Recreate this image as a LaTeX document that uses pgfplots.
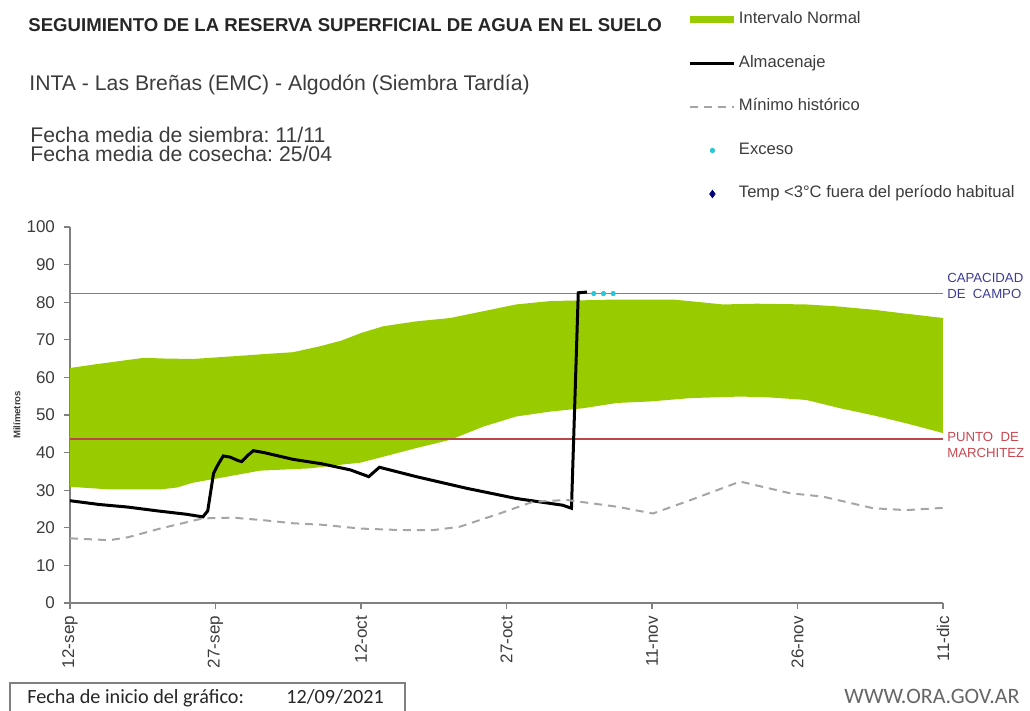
\documentclass[border=0pt]{standalone}
\usepackage{fontspec}
\setmainfont{Liberation Sans}
\newfontfamily\carlito{Carlito}
\usepackage{pgfplots}
\usepgfplotslibrary{fillbetween}
\pgfplotsset{compat=1.18}
\usepackage{pgfplotstable}
\frenchspacing

\definecolor{ngreen}{RGB}{153,204,0}
\definecolor{axgray}{RGB}{128,128,128}
\definecolor{capline}{RGB}{100,130,180}
\definecolor{pmline}{RGB}{185,70,75}
\definecolor{capnavy}{RGB}{60,60,150}
\definecolor{pmred}{RGB}{200,70,80}
\definecolor{dashgray}{RGB}{165,165,165}
\definecolor{excyan}{RGB}{40,200,220}
\definecolor{tempnavy}{RGB}{0,0,120}
\definecolor{txtgray}{RGB}{60,60,60}

% intervalo normal: limite superior e inferior (dias desde 12-sep, mm)
\pgfplotstableread{
d    mm
0    62.5
2.4  63.4
5    64.3
7.6  65.2
10   65.0
12.7 64.9
15   65.3
17.9 65.8
20   66.2
23   66.7
25.8 68.3
28   69.8
30   71.8
32.3 73.6
35.7 74.9
39.2 75.8
42.6 77.6
46   79.4
49.5 80.3
52.9 80.5
56   80.7
59.8 80.7
62.2 80.7
65   80.0
67.3 79.4
70.8 79.6
75.9 79.4
79   78.9
82.8 78.0
86   77.0
90   75.8
}\tabsup

\pgfplotstableread{
d    mm
0    30.9
4.1  30.2
9.3  30.2
11   30.7
12.7 32.0
16.2 33.6
19.6 35.2
24.7 35.8
28   36.8
29.9 37.3
32.3 38.9
35.7 41.2
39.2 43.4
42.6 46.9
46   49.6
49.5 50.9
52.9 51.8
56.4 53.2
59.8 53.6
64   54.5
69.1 54.9
72   54.7
75.9 54.0
79.4 51.8
83   49.8
86.2 47.8
90   45.2
}\tabinf

\pgfplotstableread{
d    mm
0    27.2
3    26.2
6    25.5
9    24.5
12   23.6
13.7 22.9
14.2 24.5
14.8 34.5
15.3 37.0
15.8 39.1
16.5 38.8
17.3 37.9
17.7 37.6
18.3 39.2
18.9 40.5
20   40.0
23   38.2
26   37.0
28.9 35.4
30.8 33.6
31.9 36.1
35.7 33.6
40.9 30.5
46   27.8
50.8 26.0
51.7 25.2
52.4 82.5
53.3 82.7
}\tabalm

\pgfplotstableread{
d    mm
0    17.2
4.1  16.7
6    17.5
9.3  19.8
13.7 22.5
16.8 22.7
20   22.0
23   21.2
26   20.8
29.9 19.8
34   19.4
37.5 19.4
40.2 20.3
44.3 23.8
47.7 26.9
51.2 27.4
56.4 25.6
60.1 23.8
64   27.4
69.1 32.3
74.2 29.2
77.6 28.3
82.8 25.2
86.2 24.7
90   25.3
}\tabmin

\begin{document}
\begin{tikzpicture}

\node[anchor=base west, inner sep=0pt, text=black!85, font=\bfseries\fontsize{9.3}{10}\selectfont]
  at (14pt,339.5pt) {SEGUIMIENTO DE LA RESERVA SUPERFICIAL DE AGUA EN EL SUELO};
\node[anchor=base west, inner sep=0pt, text=txtgray, font=\fontsize{10.6}{12}\selectfont]
  at (14.5pt,310.2pt) {INTA - Las Breñas (EMC) - Algodón (Siembra Tardía)};
\node[anchor=base west, inner sep=0pt, text=txtgray, font=\fontsize{10.6}{12}\selectfont]
  at (15pt,284.2pt) {Fecha media de siembra: 11/11};
\node[anchor=base west, inner sep=0pt, text=txtgray, font=\fontsize{10.6}{12}\selectfont]
  at (15pt,274.7pt) {Fecha media de cosecha: 25/04};

\begin{axis}[
    at={(35pt,54pt)}, anchor=south west,
    scale only axis, width=436.5pt, height=188pt,
    xmin=0, xmax=90, ymin=0, ymax=100,
    axis x line*=bottom, axis y line*=left,
    axis line style={draw=axgray, line width=0.8pt, -},
    xtick={0,15,...,90},
    xticklabels={12-sep,27-sep,12-oct,27-oct,11-nov,26-nov,11-dic},
    ytick={0,10,...,100},
    tick align=outside, major tick length=3pt,
    tick style={axgray, line width=0.6pt},
    /pgf/number format/assume math mode=true,
    xticklabel style={rotate=90, anchor=east, text=txtgray, font=\fontsize{8.5}{9}\selectfont},
    yticklabel style={text=txtgray, font=\fontsize{8.5}{9}\selectfont, xshift=-1pt},
    ylabel={Milímetros},
    ylabel style={at={(axis description cs:-0.0607,0.5)}, anchor=center, rotate=0,
        font=\bfseries\fontsize{4.8}{5}\selectfont, text=txtgray},
    clip=false,
    legend cell align=left,
    legend style={at={(0.709,1.5718)}, anchor=north west, draw=none, fill=none,
        inner sep=0pt, outer sep=0pt, row sep=13.75pt,
        nodes={inner sep=0pt, text height=6pt, text depth=2pt, text=txtgray,
               font=\fontsize{8.3}{9}\selectfont},
        /tikz/every odd column/.style={column sep=1.5pt}},
    legend image code/.code={\draw[mark repeat=2,mark phase=2,#1]
        plot coordinates {(0pt,0pt) (11pt,0pt) (22pt,0pt)};},
]

\addplot[name path=up, draw=none, forget plot] table[x=d, y=mm] {\tabsup};
\addplot[name path=lo, draw=none, forget plot] table[x=d, y=mm] {\tabinf};
\addplot[fill=ngreen, draw=none,
    legend image code/.code={\fill[ngreen] (0pt,-1.75pt) rectangle (22pt,1.75pt);}]
    fill between[of=up and lo];
\addlegendentry{Intervalo Normal}

% capacidad de campo y punto de marchitez
\addplot[capline, line width=0.6pt, forget plot] coordinates {(0,82.3) (90,82.3)};
\addplot[pmline, line width=0.6pt, forget plot] coordinates {(0,43.6) (90,43.6)};

\addplot[black, line width=1.5pt] table[x=d, y=mm] {\tabalm};
\addlegendentry{Almacenaje}

\addplot[dashgray, line width=1pt, dash pattern=on 4pt off 3pt] table[x=d, y=mm] {\tabmin};
\addlegendentry{Mínimo histórico}

\addplot[only marks, mark=*, mark size=1.1pt, excyan] coordinates {(54,82.3) (55,82.3) (56,82.3)};
\addlegendentry{Exceso}

\addlegendimage{only marks, mark=diamond*, mark size=1.8pt, tempnavy}
\addlegendentry{Temp <3°C fuera del período habitual}

\node[anchor=west, align=left, inner sep=0pt, text=capnavy, font=\fontsize{6.6}{8}\selectfont]
  at (axis cs:90.4,84.2) {CAPACIDAD\\DE\ \ CAMPO};
\node[anchor=west, align=left, inner sep=0pt, text=pmred, font=\fontsize{6.6}{8}\selectfont]
  at (axis cs:90.4,42.0) {PUNTO\ \ DE\\MARCHITEZ};
\end{axis}

\draw[gray, line width=0.6pt] (5pt,-3pt) rectangle (202.5pt,14pt);
\node[anchor=base west, inner sep=0pt, text=black!85, font=\carlito\fontsize{10.1}{11}\selectfont]
  at (13.5pt,3.5pt) {Fecha de inicio del gráfico:\hspace{2.1em}12/09/2021};
\node[anchor=base east, inner sep=0pt, text=black!60, font=\carlito\fontsize{11}{12}\selectfont]
  at (510pt,3.5pt) {WWW.ORA.GOV.AR};

\pgfresetboundingbox
\useasboundingbox (0,0) rectangle (515pt,355.5pt);
\end{tikzpicture}
\end{document}
